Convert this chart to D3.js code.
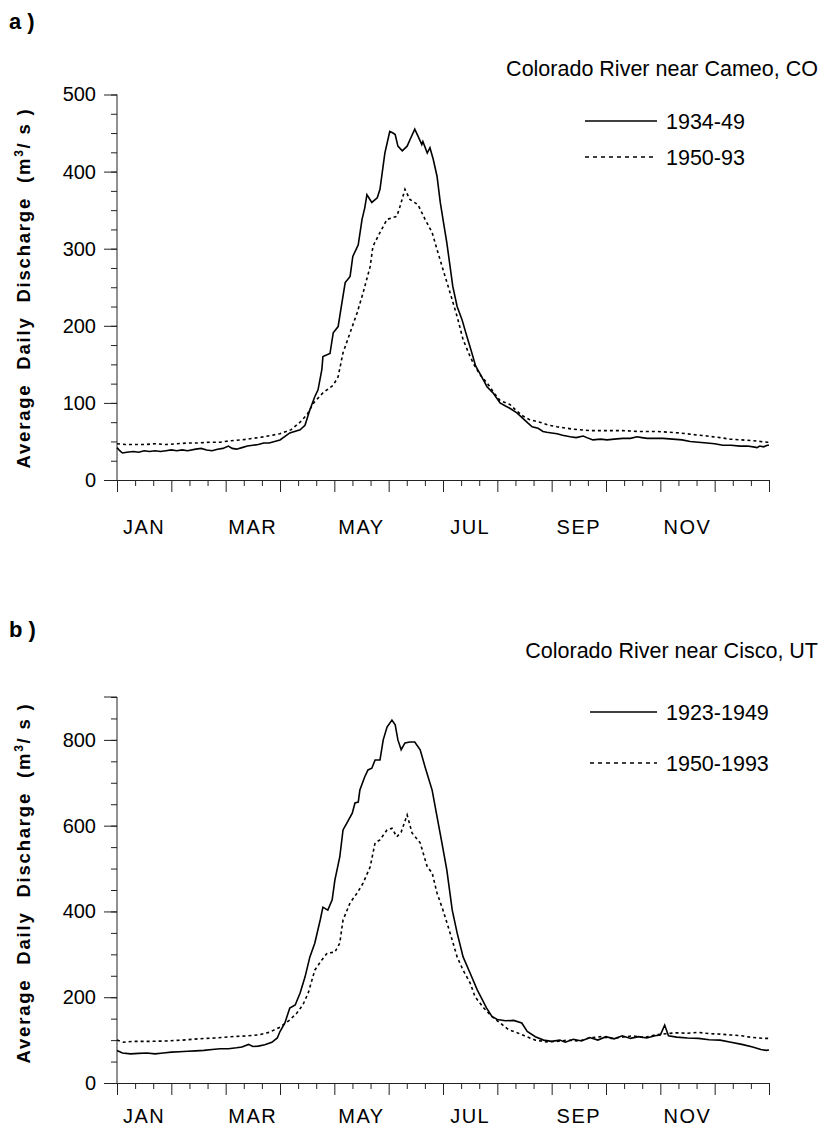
<!DOCTYPE html>
<html><head><meta charset="utf-8">
<script src="https://cdn.jsdelivr.net/npm/d3@7"></script>
<style>
body{margin:0;background:#fff}
text{font-family:"Liberation Sans",Arial,Helvetica,sans-serif;fill:#000}
</style>
</head><body>
<svg id="c" width="821" height="1127"></svg>
<script>
// ---- data (x = position in months from Jan 1, y = m3/s) ----
const monthLabels = ["JAN","MAR","MAY","JUL","SEP","NOV"];
const labelMonths = [0,2,4,6,8,10];

const cameoTitle = "Colorado River near Cameo, CO";
const cameoLegend = ["1934-49","1950-93"];
const cameoTicks = [0,100,200,300,400,500];
const cameoSolid = [[0,42],[0.05,38],[0.1,35],[0.18,36],[0.3,37],[0.4,36],[0.5,38],[0.6,37],[0.7,38],[0.8,37],[0.9,38],[1.0,39],[1.1,38],[1.2,39],[1.3,38],[1.45,40],[1.55,41],[1.65,39],[1.75,38],[1.85,40],[1.95,41],[2.05,44],[2.12,41],[2.2,40],[2.3,42],[2.4,44],[2.5,45],[2.6,46],[2.7,48],[2.8,48],[2.9,50],[3.0,52],[3.18,61],[3.37,65],[3.46,71],[3.55,91],[3.64,108],[3.70,117],[3.77,143],[3.79,160],[3.92,164],[3.98,191],[4.07,199],[4.14,230],[4.20,256],[4.29,264],[4.34,290],[4.44,305],[4.51,338],[4.56,353],[4.60,370],[4.69,360],[4.79,366],[4.84,377],[4.93,424],[5.02,452],[5.08,450],[5.12,448],[5.17,433],[5.25,427],[5.34,433],[5.39,441],[5.48,455],[5.54,446],[5.61,435],[5.63,439],[5.71,424],[5.76,431],[5.82,416],[5.89,394],[5.95,360],[6.00,338],[6.07,308],[6.13,277],[6.18,251],[6.26,225],[6.35,208],[6.44,186],[6.53,165],[6.60,148],[6.68,138],[6.81,121],[6.92,113],[7.05,100],[7.15,96],[7.23,93],[7.36,87],[7.47,80],[7.56,74],[7.64,69],[7.75,67],[7.84,63],[7.91,62],[8.0,61],[8.10,60],[8.2,58],[8.34,56],[8.45,55],[8.58,57],[8.68,54],[8.76,52],[8.9,53],[9.02,52],[9.15,53],[9.31,54],[9.45,54],[9.57,56],[9.66,55],[9.76,54],[9.9,54],[10.05,54],[10.23,53],[10.4,52],[10.55,50],[10.7,49],[10.86,48],[11.0,47],[11.15,45],[11.3,45],[11.47,44],[11.6,44],[11.71,43],[11.78,42],[11.83,44],[11.9,43],[11.97,45],[12.0,45]];
const cameoDashed = [[0,47],[0.15,46],[0.3,46],[0.5,46],[0.7,47],[0.9,46],[1.1,47],[1.3,48],[1.5,48],[1.7,49],[1.9,49],[2.1,51],[2.3,52],[2.5,54],[2.7,56],[2.85,58],[3.0,60],[3.2,65],[3.37,75],[3.5,85],[3.62,100],[3.79,113],[3.98,123],[4.07,134],[4.16,165],[4.29,191],[4.42,217],[4.53,243],[4.66,277],[4.71,303],[4.84,321],[4.97,338],[5.15,342],[5.21,355],[5.30,377],[5.39,364],[5.54,357],[5.67,338],[5.80,321],[5.89,299],[6.00,273],[6.13,243],[6.26,212],[6.37,182],[6.50,160],[6.59,147],[6.7,135],[6.81,126],[6.95,112],[7.05,103],[7.23,98],[7.35,90],[7.47,83],[7.6,78],[7.78,75],[7.95,71],[8.10,69],[8.39,66],[8.71,64],[9.0,64],[9.31,64],[9.6,63],[9.94,63],[10.15,62],[10.36,61],[10.6,59],[10.86,57],[11.1,55],[11.28,53],[11.5,52],[11.71,51],[11.97,49],[12,49]];

const ciscoTitle = "Colorado River near Cisco, UT";
const ciscoLegend = ["1923-1949","1950-1993"];
const ciscoTicks = [0,200,400,600,800];
const ciscoSolid = [[0,76],[0.1,70],[0.25,68],[0.4,69],[0.55,70],[0.7,68],[0.85,70],[1.0,72],[1.15,73],[1.3,74],[1.45,75],[1.6,76],[1.75,78],[1.9,80],[2.05,80],[2.2,82],[2.3,84],[2.42,90],[2.5,85],[2.6,86],[2.72,89],[2.85,95],[2.95,105],[3.0,120],[3.09,140],[3.18,175],[3.28,182],[3.37,210],[3.46,247],[3.55,294],[3.64,326],[3.74,380],[3.79,410],[3.88,403],[3.96,427],[4.01,473],[4.10,527],[4.16,590],[4.23,606],[4.33,629],[4.38,653],[4.44,655],[4.47,683],[4.56,714],[4.62,730],[4.69,734],[4.75,753],[4.84,753],[4.90,800],[4.97,830],[5.06,846],[5.12,835],[5.17,800],[5.23,777],[5.30,793],[5.39,795],[5.48,795],[5.58,777],[5.67,737],[5.80,683],[5.89,621],[5.98,560],[6.07,497],[6.17,403],[6.26,350],[6.37,294],[6.50,256],[6.63,217],[6.68,205],[6.8,175],[6.9,155],[7.0,148],[7.15,145],[7.3,146],[7.45,140],[7.55,120],[7.7,108],[7.85,100],[8.0,97],[8.15,100],[8.25,95],[8.4,102],[8.55,98],[8.7,106],[8.85,100],[9.0,108],[9.15,103],[9.3,110],[9.45,104],[9.6,108],[9.75,105],[9.9,110],[10.0,112],[10.08,135],[10.15,110],[10.3,107],[10.5,105],[10.7,104],[10.9,101],[11.1,100],[11.3,95],[11.5,90],[11.7,84],[11.85,78],[11.95,76],[12,77]];
const ciscoDashed = [[0,100],[0.12,95],[0.3,97],[0.6,97],[0.9,98],[1.2,100],[1.5,103],[1.8,105],[2.1,108],[2.4,110],[2.6,112],[2.8,118],[3.0,130],[3.18,147],[3.31,163],[3.42,182],[3.52,210],[3.64,263],[3.77,287],[3.87,303],[4.01,305],[4.10,326],[4.16,380],[4.29,420],[4.42,443],[4.53,466],[4.66,504],[4.75,560],[4.84,567],[4.97,590],[5.06,594],[5.15,574],[5.23,585],[5.34,625],[5.43,583],[5.58,560],[5.71,504],[5.80,490],[5.89,443],[6.00,403],[6.13,350],[6.26,294],[6.37,263],[6.50,233],[6.59,201],[6.75,175],[6.9,155],[7.05,140],[7.2,125],[7.35,118],[7.5,110],[7.7,100],[7.9,96],[8.1,97],[8.3,100],[8.5,98],[8.7,105],[8.9,108],[9.1,104],[9.3,107],[9.5,110],[9.7,106],[9.9,112],[10.1,115],[10.3,117],[10.5,116],[10.7,118],[10.9,115],[11.1,114],[11.3,112],[11.5,110],[11.7,106],[11.9,104],[12,104]];

// ---- drawing ----
const svg = d3.select("#c");
const X0 = 117, X1 = 769;

function panel(o){
  const g = svg.append("g");
  const x = d3.scaleLinear().domain([0,12]).range([X0,X1]);
  const y = d3.scaleLinear().domain([0,o.ymax]).range([o.yBottom,o.yTop]);

  g.append("text").attr("x",9).attr("y",o.tagY).style("font-weight","bold").style("font-size","22px").text(o.tag);
  g.append("text").attr("x",818).attr("y",o.titleY).attr("text-anchor","end").style("font-size","21.5px").text(o.title);

  // y axis
  const minor = d3.range(0,o.ymax+0.1,o.minorStep);
  g.append("g").attr("transform",`translate(${X0},0)`)
    .call(d3.axisLeft(y).tickValues(minor).tickSize(6).tickFormat(""))
    .call(s=>{s.select(".domain").remove();});
  const yax = g.append("g").attr("transform",`translate(${X0},0)`)
    .call(d3.axisLeft(y).tickValues(o.majors).tickSize(13).tickPadding(8).tickSizeOuter(13).tickFormat(d3.format("d")));
  yax.selectAll("text").style("font-size","20px").style("font-family","'Liberation Sans',Arial,sans-serif");
  if (o.extraTop) g.append("line").attr("x1",X0-13).attr("x2",X0).attr("y1",y(o.ymax)).attr("y2",y(o.ymax)).attr("stroke","#222");
  yax.select(".domain").attr("d",`M${0},${y(o.ymax)}V${y(0)}`);

  // x axis
  const dek = [];
  for (let m=0;m<12;m++){dek.push(m+1/3,m+2/3);}
  g.append("g").attr("transform",`translate(0,${o.yBottom})`)
    .call(d3.axisBottom(x).tickValues(dek).tickSize(6).tickFormat(""))
    .call(s=>s.select(".domain").remove());
  g.append("g").attr("transform",`translate(0,${o.yBottom})`)
    .call(d3.axisBottom(x).tickValues(d3.range(0,13)).tickSize(12).tickSizeOuter(0).tickFormat(""));
  g.selectAll(".tick line, .domain").attr("stroke","#222");

  g.selectAll(".mlab").data(monthLabels).enter().append("text")
    .attr("x",(d,i)=>x(labelMonths[i]+0.5)).attr("y",o.yBottom+o.labOff)
    .attr("text-anchor","middle").style("font-size","20px").style("letter-spacing","1.5px").text(d=>d);

  // y title
  const t = g.append("text").attr("transform",`translate(${o.ytX},${o.ytY}) rotate(-90)`)
    .attr("text-anchor","middle").style("font-weight","bold").style("font-size","18.5px")
    .style("letter-spacing","1.8px")
    .attr("xml:space","preserve").style("white-space","pre");
  t.append("tspan").text("Average  Daily  Discharge  (m");
  t.append("tspan").attr("dy",-7).style("font-size","12px").text("3");
  t.append("tspan").attr("dy",7).text("/ s )");

  const line = d3.line().x(d=>x(d[0])).y(d=>y(d[1]));
  g.append("path").datum(o.dashed).attr("d",line).attr("fill","none").attr("stroke","#000").attr("stroke-width",1.6).attr("stroke-dasharray","3,3");
  g.append("path").datum(o.solid).attr("d",line).attr("fill","none").attr("stroke","#000").attr("stroke-width",1.6);

  // legend
  o.legend.forEach((lab,i)=>{
    const ly = o.legY[i];
    g.append("line").attr("x1",o.legX0).attr("x2",657).attr("y1",ly).attr("y2",ly)
      .attr("stroke","#000").attr("stroke-width",1.5).attr("stroke-dasharray",i?"4,4":null);
    g.append("text").attr("x",666).attr("y",ly+7.5).style("font-size","21.5px").text(lab);
  });
}

panel({tag:"a )",tagY:29,title:cameoTitle,titleY:76,ymax:500,yTop:94.5,yBottom:480,majors:cameoTicks,minorStep:25,
  solid:cameoSolid,dashed:cameoDashed,legend:cameoLegend,legY:[121,157],legX0:585,labOff:54,ytX:30,ytY:288});
panel({tag:"b )",tagY:637,title:ciscoTitle,titleY:658,ymax:900,yTop:697,yBottom:1083,majors:ciscoTicks,minorStep:50,extraTop:true,
  solid:ciscoSolid,dashed:ciscoDashed,legend:ciscoLegend,legY:[712,763],legX0:590,labOff:40,ytX:30,ytY:883});
</script>
</body></html>
